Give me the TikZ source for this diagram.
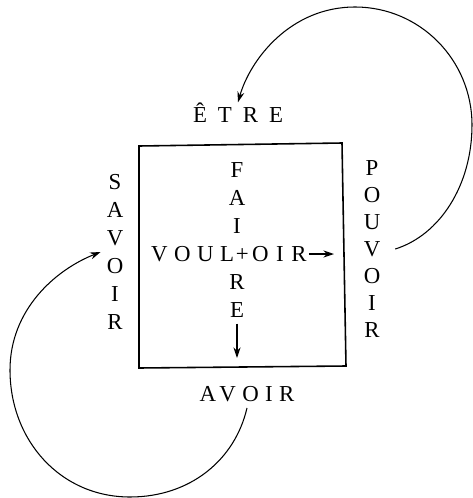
\documentclass[tikz,border=0pt]{standalone}
\usepackage{fontspec}
\setmainfont{Liberation Serif}
\newfontfamily\widefont[LetterSpace=28]{Liberation Serif}
\newfontfamily\widerfont[LetterSpace=48]{Liberation Serif}
\newcommand\lgap{\kern3.7pt}
\usetikzlibrary{arrows.meta}

\begin{document}
\begin{tikzpicture}[x=0.02cm, y=-0.02cm,
    every node/.style={font=\fontsize{13}{15.9}\selectfont},
    column/.style={align=center},
    tip/.style={-{Stealth[length=6pt,width=4pt]}}]
  \useasboundingbox (0,0) rectangle (473,498);

  % Draw the square
  \draw[line width=0.9pt] (139,146) -- (342,143) -- (346,366) -- (139,368) -- cycle;

  % Verbs round the square
  \node (etre) at (238,113) {\widerfont ÊTRE};
  \node (avoir) at (247,394) {\widefont AVOIR};
  \node[column] (savoir) at (115,252) {S\\A\\V\\O\\I\\R};
  \node[column, font=\fontsize{13}{15.4}\selectfont] (pouvoir) at (372,249) {P\\O\\U\\V\\O\\I\\R};

  % Verbs inside the square
  \node[column] (faire) at (237,240) {F\\A\\I\\[15.9pt]R\\E};
  \node[anchor=west, inner xsep=1pt] (vouloir) at (149,254)
      {V\lgap O\lgap U\lgap L\kern1pt+\kern2pt O\kern4.3pt I\kern4.3pt R};
  \coordinate (faireend) at (237,358);
  \coordinate (vouloirend) at (334,254);
  \draw[tip, line width=0.7pt] (faire.south) -- (faireend);
  \draw[tip, line width=0.7pt] (vouloir.east) -- (vouloirend);

  % Draw the two loops
  \draw[tip, line width=0.6pt] (avoir.south) .. controls (235,460) and (190,497) .. (130,497)
      .. controls (60,497) and (10,440) .. (10,370)
      .. controls (10,310) and (55,270) .. (savoir.west);
  \draw[tip, line width=0.6pt] ([xshift=5pt]pouvoir.east) .. controls (440,235) and (472,185) .. (472,125)
      .. controls (472,60) and (420,7) .. (355,7)
      .. controls (290,7) and (250,60) .. ([yshift=-3pt]etre.north);

\end{tikzpicture}
\end{document}
